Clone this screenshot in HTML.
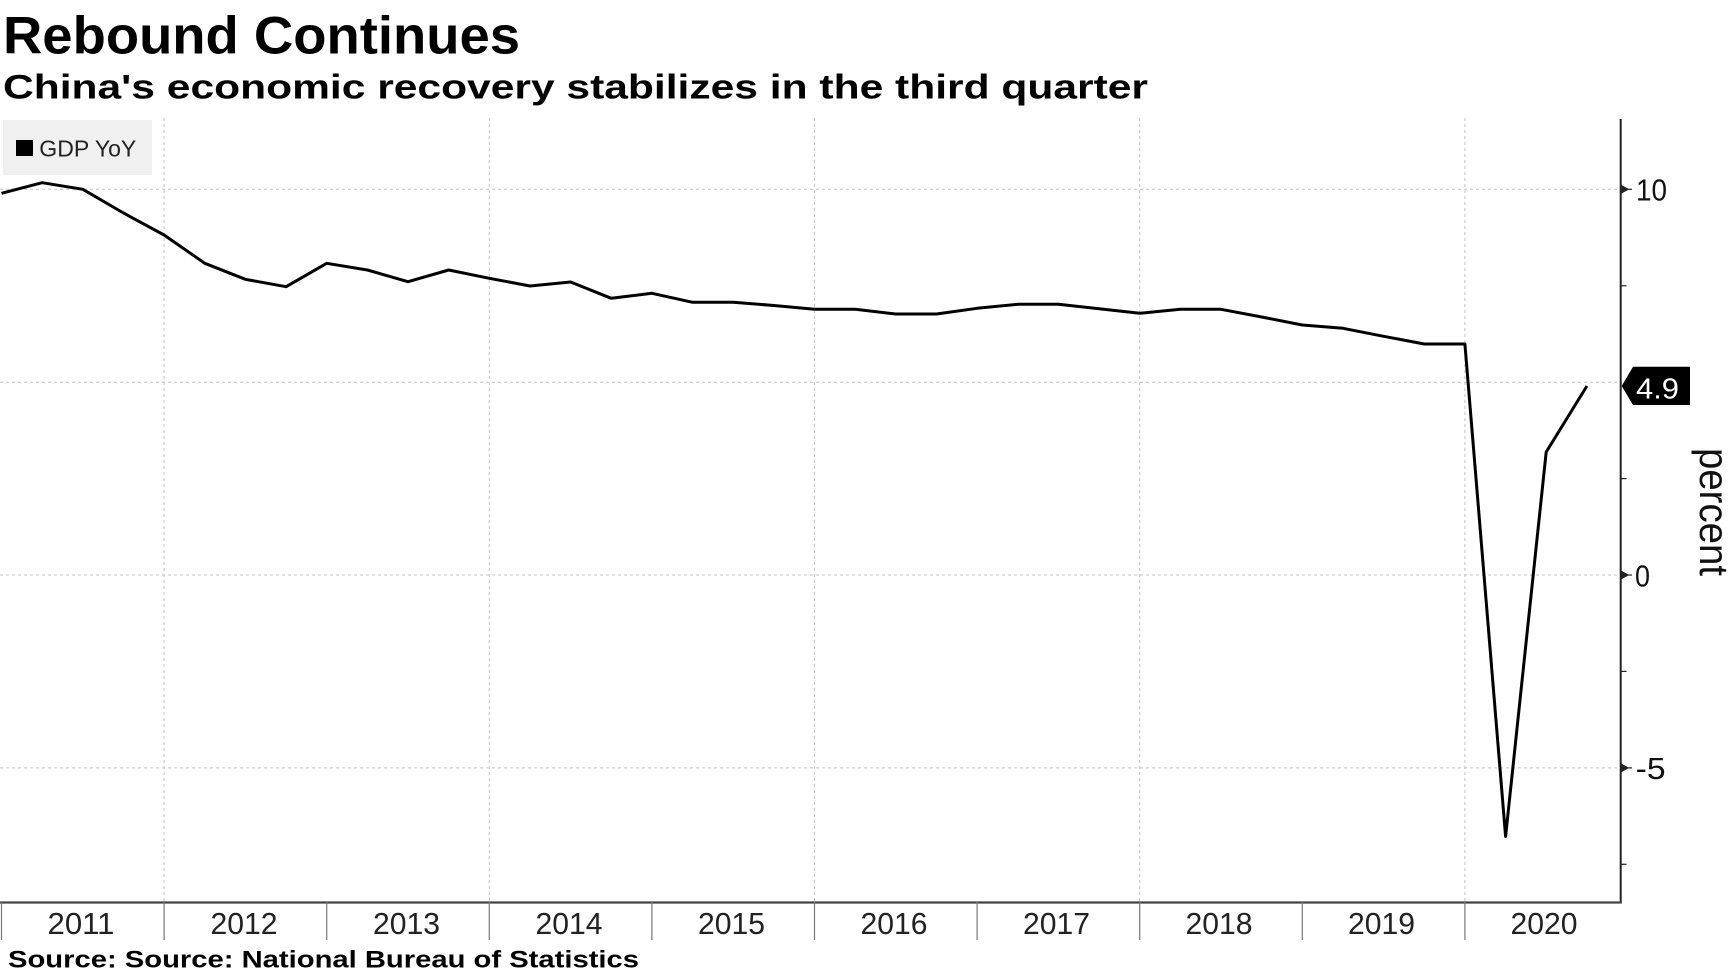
<!DOCTYPE html>
<html>
<head>
<meta charset="utf-8">
<style>
  html, body { margin: 0; padding: 0; background: #ffffff; }
  body { width: 1734px; height: 975px; overflow: hidden; }
  svg { display: block; }
  text { font-family: "Liberation Sans", "DejaVu Sans", sans-serif; }
</style>
</head>
<body>
<svg width="1734" height="975" viewBox="0 0 1734 975" xmlns="http://www.w3.org/2000/svg">
  <rect x="0" y="0" width="1734" height="975" fill="#ffffff"/>

  <!-- Title & subtitle -->
  <text x="3" y="53.5" font-size="52.5" font-weight="bold" fill="#000" textLength="517" lengthAdjust="spacingAndGlyphs">Rebound Continues</text>
  <text x="3" y="98.3" font-size="34.3" font-weight="bold" fill="#000" textLength="1145" lengthAdjust="spacingAndGlyphs">China's economic recovery stabilizes in the third quarter</text>

  <!-- Horizontal gridlines -->
  <g stroke="#c4c4c4" stroke-width="1" stroke-dasharray="3,3" fill="none">
    <line x1="0" y1="189.3" x2="1620" y2="189.3"/>
    <line x1="0" y1="382.2" x2="1620" y2="382.2"/>
    <line x1="0" y1="575" x2="1620" y2="575"/>
    <line x1="0" y1="767.9" x2="1620" y2="767.9"/>
  </g>
  <!-- Vertical gridlines -->
  <g stroke="#c4c4c4" stroke-width="1" stroke-dasharray="3,3" fill="none">
    <line x1="164.1" y1="118" x2="164.1" y2="902"/>
    <line x1="489.3" y1="118" x2="489.3" y2="902"/>
    <line x1="814.5" y1="118" x2="814.5" y2="902"/>
    <line x1="1139.7" y1="118" x2="1139.7" y2="902"/>
    <line x1="1464.9" y1="118" x2="1464.9" y2="902"/>
  </g>

  <!-- Legend -->
  <rect x="3" y="120" width="149" height="55" fill="#f0f0f0"/>
  <rect x="16" y="140" width="17" height="16" fill="#000"/>
  <text x="39.3" y="156.7" font-size="23" fill="#222" textLength="97" lengthAdjust="spacingAndGlyphs">GDP YoY</text>

  <!-- Data line -->
  <polyline fill="none" stroke="#000" stroke-width="3" stroke-linejoin="round" stroke-linecap="butt"
    points="1.5,193.3 42.2,182.7 82.8,189.3 123.5,213 164.1,235 204.8,263.3 245.4,279.3 286.1,286.7 326.7,263.3 367.4,270 408,281.7 448.7,270 489.3,278.3 530,286 570.6,282 611.3,298.3 651.9,293.3 692.6,302.3 733.2,302.3 773.9,305.5 814.5,309.3 855.2,309.3 895.8,314 936.5,314 977.1,308.3 1017.8,304.3 1058.4,304.3 1099.1,308.8 1139.7,313.3 1180.4,309.3 1221,309.3 1261.7,317 1302.3,325 1343,328.3 1383.6,336.3 1424.3,344 1464.9,344 1505.6,836.5 1546.2,452 1586.9,386"/>

  <!-- Right y-axis -->
  <line x1="1620.7" y1="119" x2="1620.7" y2="903" stroke="#222" stroke-width="2"/>
  <!-- major ticks (triangles) -->
  <g fill="#222" stroke="#222" stroke-width="1.2">
    <polygon points="1620.7,185.3 1620.7,193.3 1628,189.3"/>
    <line x1="1628" y1="189.3" x2="1632" y2="189.3"/>
    <polygon points="1620.7,571 1620.7,579 1628,575"/>
    <line x1="1628" y1="575" x2="1632" y2="575"/>
    <polygon points="1620.7,763.9 1620.7,771.9 1628,767.9"/>
    <line x1="1628" y1="767.9" x2="1632" y2="767.9"/>
  </g>
  <!-- minor ticks -->
  <g stroke="#222" stroke-width="1.2">
    <line x1="1620.7" y1="285.7" x2="1626.5" y2="285.7"/>
    <line x1="1620.7" y1="478.6" x2="1626.5" y2="478.6"/>
    <line x1="1620.7" y1="671.4" x2="1626.5" y2="671.4"/>
    <line x1="1620.7" y1="864.3" x2="1626.5" y2="864.3"/>
  </g>
  <!-- y tick labels -->
  <g font-size="31" fill="#111">
    <text x="1636" y="200.5" textLength="31" lengthAdjust="spacingAndGlyphs">10</text>
    <text x="1635" y="586.3" textLength="15" lengthAdjust="spacingAndGlyphs">0</text>
    <text x="1635.7" y="779.2" textLength="30" lengthAdjust="spacingAndGlyphs">-5</text>
  </g>

  <!-- Last value label -->
  <polygon points="1621.7,386 1633,366.7 1690,366.7 1690,405 1633,405" fill="#000"/>
  <text x="1636" y="398.3" font-size="29" fill="#fff" textLength="43" lengthAdjust="spacingAndGlyphs">4.9</text>

  <!-- Axis title -->
  <text transform="translate(1700,448) rotate(90)" font-size="41" fill="#111" textLength="128" lengthAdjust="spacingAndGlyphs">percent</text>

  <!-- X axis -->
  <line x1="0" y1="902.5" x2="1621.7" y2="902.5" stroke="#444" stroke-width="2.2"/>
  <g stroke="#777" stroke-width="1.2">
    <line x1="1.5" y1="902" x2="1.5" y2="940"/>
    <line x1="164.1" y1="902" x2="164.1" y2="940"/>
    <line x1="326.7" y1="902" x2="326.7" y2="940"/>
    <line x1="489.3" y1="902" x2="489.3" y2="940"/>
    <line x1="651.9" y1="902" x2="651.9" y2="940"/>
    <line x1="814.5" y1="902" x2="814.5" y2="940"/>
    <line x1="977.1" y1="902" x2="977.1" y2="940"/>
    <line x1="1139.7" y1="902" x2="1139.7" y2="940"/>
    <line x1="1302.3" y1="902" x2="1302.3" y2="940"/>
    <line x1="1464.9" y1="902" x2="1464.9" y2="940"/>
  </g>
  <g font-size="31" fill="#222" text-anchor="middle">
    <text x="81" y="934" textLength="67" lengthAdjust="spacingAndGlyphs">2011</text>
    <text x="244" y="934" textLength="67" lengthAdjust="spacingAndGlyphs">2012</text>
    <text x="406.5" y="934" textLength="67" lengthAdjust="spacingAndGlyphs">2013</text>
    <text x="569" y="934" textLength="67" lengthAdjust="spacingAndGlyphs">2014</text>
    <text x="731.5" y="934" textLength="67" lengthAdjust="spacingAndGlyphs">2015</text>
    <text x="894" y="934" textLength="67" lengthAdjust="spacingAndGlyphs">2016</text>
    <text x="1056.5" y="934" textLength="67" lengthAdjust="spacingAndGlyphs">2017</text>
    <text x="1219" y="934" textLength="67" lengthAdjust="spacingAndGlyphs">2018</text>
    <text x="1381.5" y="934" textLength="67" lengthAdjust="spacingAndGlyphs">2019</text>
    <text x="1544" y="934" textLength="67" lengthAdjust="spacingAndGlyphs">2020</text>
  </g>

  <!-- Source -->
  <text x="8" y="967.3" font-size="24" font-weight="bold" fill="#000" textLength="631" lengthAdjust="spacingAndGlyphs">Source: Source: National Bureau of Statistics</text>
</svg>
</body>
</html>
